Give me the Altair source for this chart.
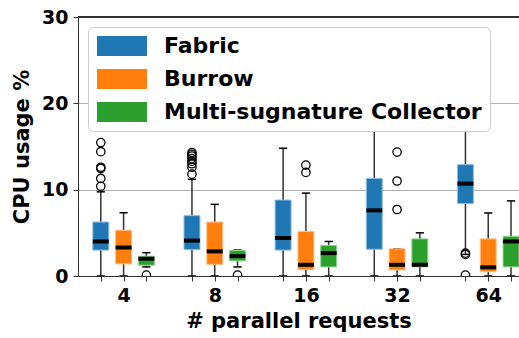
import altair as alt
import pandas as pd

# x-axis groups and the systems compared in each group
requests = ["4", "8", "16", "32", "64"]
systems = ["Fabric", "Burrow", "Multi-sugnature Collector"]
colors = ["#1f77b4", "#ff7f0e", "#2ca02c"]
edge_colors = ["#8dbde0", "#ffbf86", "#96d396"]

# box statistics (CPU usage %), one value per request count
q1 = {
    "Fabric": [3.0, 3.05, 3.0, 3.1, 8.4],
    "Burrow": [1.4, 1.35, 0.75, 0.7, 0.5],
    "Multi-sugnature Collector": [1.25, 1.75, 1.05, 1.05, 1.05],
}
median = {
    "Fabric": [4.0, 4.1, 4.4, 7.6, 10.7],
    "Burrow": [3.3, 2.85, 1.3, 1.3, 1.0],
    "Multi-sugnature Collector": [2.0, 2.3, 2.65, 1.3, 4.0],
}
q3 = {
    "Fabric": [6.25, 7.0, 8.8, 11.3, 12.9],
    "Burrow": [5.3, 6.25, 5.15, 3.15, 4.3],
    "Multi-sugnature Collector": [2.3, 2.95, 3.55, 4.3, 4.6],
}
whisker_lo = {
    "Fabric": [0.0, 0.0, 0.0, 0.0, 2.5],
    "Burrow": [0.0, 0.0, 0.0, 0.0, 0.0],
    "Multi-sugnature Collector": [1.05, 1.05, 0.0, 0.0, 0.0],
}
whisker_hi = {
    "Fabric": [9.75, 11.2, 14.8, 18.5, 19.0],
    "Burrow": [7.33, 8.3, 9.6, 3.15, 7.3],
    "Multi-sugnature Collector": [2.7, 3.0, 4.0, 5.0, 8.7],
}
outliers = {
    "Fabric": [
        [15.45, 14.4, 12.6, 12.45, 11.3, 10.4],
        [14.3, 14.1, 13.9, 13.6, 13.3, 13.0, 12.6, 11.8],
        [],
        [],
        [2.65, 2.5, 0.1],
    ],
    "Burrow": [[], [], [12.85, 12.0], [14.35, 11.0, 7.7], []],
    "Multi-sugnature Collector": [[0.1], [0.1], [], [], []],
}

# layout: each group takes 4 slots, three boxes per group
BOX_HALF = 0.35
CAP_HALF = 0.18

rows, out_rows = [], []
for g, req in enumerate(requests):
    for s, name in enumerate(systems):
        pos = 4 * g + s + 1
        rows.append({
            "system": name, "request": req, "pos": pos,
            "left": pos - BOX_HALF, "right": pos + BOX_HALF,
            "cap_l": pos - CAP_HALF, "cap_r": pos + CAP_HALF,
            "q1": q1[name][g], "median": median[name][g], "q3": q3[name][g],
            "lo": whisker_lo[name][g], "hi": whisker_hi[name][g],
        })
        for v in outliers[name][g]:
            out_rows.append({"system": name, "pos": pos, "value": v})

boxes = pd.DataFrame(rows)
fliers = pd.DataFrame(out_rows)

tick_positions = sorted(boxes["pos"].tolist())
label_pos = {4 * g + 2: req for g, req in enumerate(requests)}
label_expr = " : ".join(
    f"datum.value == {p} ? '{t}'" for p, t in label_pos.items()
) + " : ''"

FONT = "DejaVu Sans"
x_domain = [0, 19.35]

x_scale = alt.Scale(domain=x_domain, nice=False, zero=False)
y_scale = alt.Scale(domain=[0, 30], nice=False)

x_axis = alt.Axis(
    values=tick_positions, labelExpr=label_expr, grid=False,
    tickSize=5, tickColor="#333", domainColor="#333",
    labelFont=FONT, labelFontSize=19, labelFontWeight="bold", labelColor="black",
    labelOverlap=False, labelFlush=False, labelPadding=5,
    title="# parallel requests", titleFont=FONT, titleFontSize=21,
    titleFontWeight="bold", titleColor="black", titlePadding=5,
)
y_axis = alt.Axis(
    values=[0, 10, 20, 30], grid=True, gridColor="#b0b0b0", gridWidth=1,
    tickSize=5, tickColor="#333", domainColor="#333",
    labelFont=FONT, labelFontSize=19, labelFontWeight="bold", labelColor="black",
    labelPadding=5, labelFlush=False, labelOverlap=False,
    title="CPU usage %", titleFont=FONT, titleFontSize=21,
    titleFontWeight="bold", titleColor="black", titlePadding=9,
)

base = alt.Chart(boxes)

whisker_low = base.mark_rule(color="#333", strokeWidth=1.5, clip=True).encode(
    x=alt.X("pos:Q", scale=x_scale, axis=x_axis),
    y=alt.Y("lo:Q", scale=y_scale, axis=y_axis),
    y2="q1:Q",
)
whisker_high = base.mark_rule(color="#333", strokeWidth=1.5, clip=True).encode(
    x=alt.X("pos:Q", axis=x_axis), y=alt.Y("q3:Q", axis=y_axis), y2="hi:Q",
)
cap_low = base.mark_rule(color="black", strokeWidth=1.5, clip=True).encode(
    x=alt.X("cap_l:Q", axis=x_axis), x2="cap_r:Q", y=alt.Y("lo:Q", axis=y_axis),
)
cap_high = base.mark_rule(color="black", strokeWidth=1.5, clip=True).encode(
    x=alt.X("cap_l:Q", axis=x_axis), x2="cap_r:Q", y=alt.Y("hi:Q", axis=y_axis),
)
# swatch path: 50 px wide, 20 px tall, starting at the entry's left edge
swatch = "M-1,-1H4V1H-1Z"
box = base.mark_bar(strokeWidth=1, clip=True).encode(
    x=alt.X("left:Q", axis=x_axis), x2="right:Q",
    y=alt.Y("q1:Q", axis=y_axis), y2="q3:Q",
    color=alt.Color(
        "system:N",
        scale=alt.Scale(domain=systems, range=colors),
        sort=systems,
        legend=alt.Legend(
            title=None, orient="top-left", offset=10,
            symbolType=swatch, symbolSize=400,
            symbolStrokeWidth=0, symbolOpacity=1,
            labelFont=FONT, labelFontSize=22, labelFontWeight="bold",
            labelColor="black", labelOffset=46, labelLimit=400,
            rowPadding=11, padding=8,
            fillColor="white", strokeColor="#cccccc", cornerRadius=5,
        ),
    ),
    stroke=alt.Stroke(
        "system:N", scale=alt.Scale(domain=systems, range=edge_colors), legend=None
    ),
)
med = base.mark_rule(color="black", strokeWidth=4, clip=True).encode(
    x=alt.X("left:Q", axis=x_axis), x2="right:Q", y=alt.Y("median:Q", axis=y_axis),
)
points = alt.Chart(fliers).mark_point(
    shape="circle", filled=False, color="black", size=70, strokeWidth=1.3,
    opacity=1, clip=True,
).encode(x=alt.X("pos:Q", axis=x_axis), y=alt.Y("value:Q", axis=y_axis))

top_spine = alt.Chart(boxes).mark_rule(color="#333", strokeWidth=1).encode(
    y=alt.datum(30)
)

chart = alt.layer(
    whisker_low, whisker_high, cap_low, cap_high, box, med, points, top_spine
).properties(
    width=441, height=259,
    autosize=alt.AutoSizeParams(type="none"),
    padding={"left": 78, "top": 17, "right": 0, "bottom": 62},
).configure_view(stroke=None).configure_axis(labelOverlap=False)

chart.save("out.html", embed_options={"renderer": "svg", "actions": False})
